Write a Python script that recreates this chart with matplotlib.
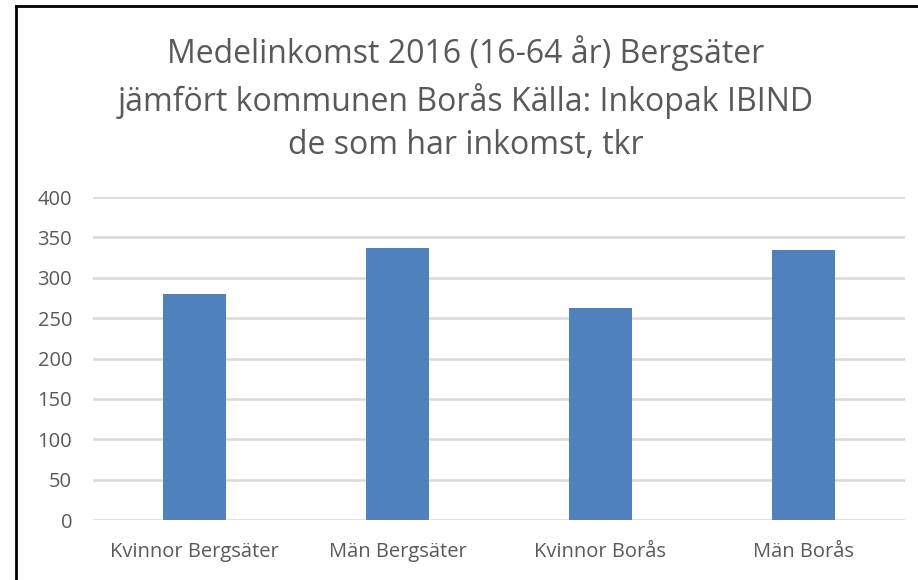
import matplotlib.pyplot as plt
from matplotlib.lines import Line2D

categories = ['Kvinnor Bergsäter', 'Män Bergsäter', 'Kvinnor Borås', 'Män Borås']
values = [280, 337, 262, 334]
yticks = [0, 50, 100, 150, 200, 250, 300, 350, 400]

plt.rcParams['font.family'] = ['Open Sans', 'DejaVu Sans']
grey = '#595959'

fig = plt.figure(figsize=(9.18, 5.8), dpi=100)
ax = fig.add_axes([93/918, 1-520/580, 812/918, 323/580])

x = range(len(categories))
ax.bar(x, values, width=0.31, color='#4f81bd', zorder=3)
ax.set_xlim(-0.5, 3.5)
ax.set_ylim(0, 400)
ax.set_yticks(yticks)
ax.set_xticks(list(x))
ax.set_xticklabels(categories)
ax.grid(axis='y', color='#d9d9d9', linewidth=1.8, zorder=0)
for s in ax.spines.values():
    s.set_visible(False)
ax.tick_params(length=0, colors=grey, labelsize=14.5)
ax.tick_params(axis='y', pad=15)
ax.tick_params(axis='x', pad=16)

fig.text(466/918, 1-99/580,
         'Medelinkomst 2016 (16-64 år) Bergsäter\njämfört kommunen Borås Källa: Inkopak IBIND\nde som har inkomst, tkr',
         ha='center', va='center', fontsize=23, color=grey, linespacing=1.42)

# chart frame (left and top edges)
fig.add_artist(Line2D([16/918, 16/918], [0, 1-6/580], color='black', linewidth=2, transform=fig.transFigure))
fig.add_artist(Line2D([16/918, 1], [1-6/580, 1-6/580], color='black', linewidth=2, transform=fig.transFigure))

fig.savefig('out.png', dpi=100)
